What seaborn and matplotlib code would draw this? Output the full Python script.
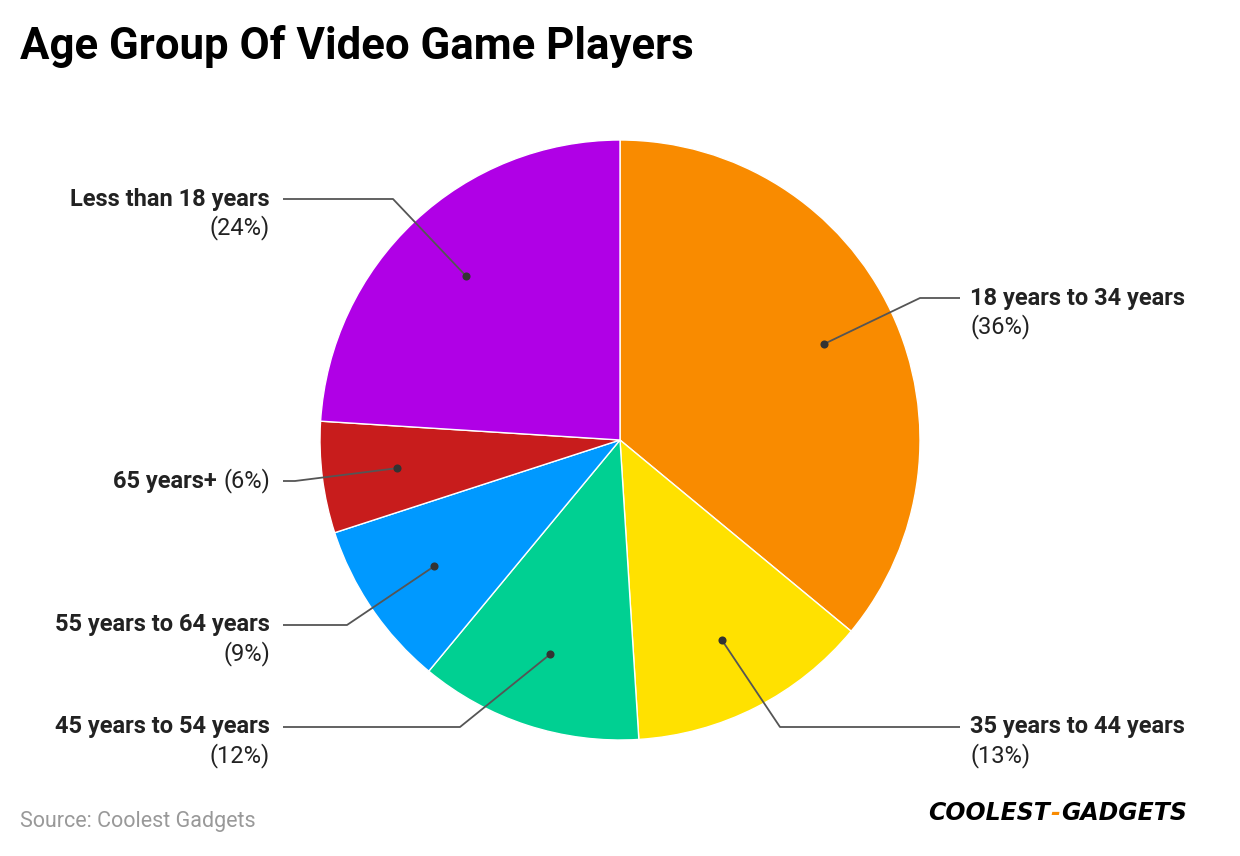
import matplotlib
matplotlib.use("Agg")
import matplotlib.pyplot as plt
import seaborn as sns
import numpy as np

sns.set_theme(style="white")
plt.rcParams['font.family'] = ['Roboto', 'DejaVu Sans']

categories = ["18 years to 34 years", "35 years to 44 years", "45 years to 54 years",
              "55 years to 64 years", "65 years+", "Less than 18 years"]
values = [36, 13, 12, 9, 6, 24]
pct_labels = ["(36%)", "(13%)", "(12%)", "(9%)", "(6%)", "(24%)"]
colors = ["#F98B00", "#FFE100", "#00D092", "#0099FF", "#C81C1C", "#B000E6"]

W, H = 1240, 856
fig = plt.figure(figsize=(W / 100, H / 100), dpi=100)
fig.patch.set_facecolor("white")
ax = fig.add_axes([0, 0, 1, 1])

def Y(py):
    return H - py

cx, cy, R = 620, Y(440), 300
wedges, _ = ax.pie(values, colors=colors, startangle=90, counterclock=False,
                   center=(cx, cy), radius=R, frame=True,
                   wedgeprops=dict(edgecolor="white", linewidth=1.0))
ax.set_xlim(0, W)
ax.set_ylim(0, H)
ax.set_aspect("equal")
ax.axis("off")

# label layout: (elbow_x, elbow_y, end_x, side, one_line)
layout = [
    (920, 298, 960, "right", False),
    (780, 727, 960, "right", False),
    (460, 727, 283, "left", False),
    (347, 625, 283, "left", False),
    (295, 481, 283, "left", True),
    (393, 199, 283, "left", False),
]

FS = 17
txtcol = "#222222"
for w, cat, pl, (ex, ey, endx, side, oneline) in zip(wedges, categories, pct_labels, layout):
    ang = np.deg2rad((w.theta1 + w.theta2) / 2)
    dx = cx + 0.75 * R * np.cos(ang)
    dy = cy + 0.75 * R * np.sin(ang)
    ax.plot([dx, ex, endx], [dy, Y(ey), Y(ey)], color="#555555", lw=1.3,
            solid_capstyle="butt", zorder=3)
    ax.scatter([dx], [dy], s=34, color="#333333", zorder=4, linewidths=0)
    if side == "right":
        tx = endx + 10
        ax.text(tx, Y(ey), cat, ha="left", va="center", fontsize=FS,
                fontweight="bold", color=txtcol)
        ax.text(tx, Y(ey + 29), pl, ha="left", va="center", fontsize=FS,
                color=txtcol)
    else:
        tx = endx - 13
        if oneline:
            t = ax.text(tx, Y(ey), pl, ha="right", va="center", fontsize=FS,
                        color=txtcol)
            fig.canvas.draw()
            bb = t.get_window_extent()
            ax.text(bb.x0 - 6, Y(ey), cat, ha="right", va="center", fontsize=FS,
                    fontweight="bold", color=txtcol)
        else:
            ax.text(tx, Y(ey), cat, ha="right", va="center", fontsize=FS,
                    fontweight="bold", color=txtcol)
            ax.text(tx, Y(ey + 29), pl, ha="right", va="center", fontsize=FS,
                    color=txtcol)

fig.text(20 / W, 1 - 46 / H, "Age Group Of Video Game Players", ha="left", va="center",
         fontsize=31.5, fontweight="bold", color="black")
fig.text(20 / W, 1 - 822 / H, "Source: Coolest Gadgets", ha="left", va="center",
         fontsize=15.5, color="#999999")

# logo
t1 = fig.text(928 / W, 1 - 813 / H, "COOLEST", ha="left", va="center", fontsize=17,
              fontweight="heavy", fontstyle="italic", color="black", family="DejaVu Sans")
fig.canvas.draw()
bb = t1.get_window_extent()
t2 = fig.text((bb.x1 + 1) / W, 1 - 813 / H, "-", ha="left", va="center", fontsize=17,
              fontweight="heavy", fontstyle="italic", color="#F98B00", family="DejaVu Sans")
fig.canvas.draw()
bb2 = t2.get_window_extent()
fig.text((bb2.x1 + 1) / W, 1 - 813 / H, "GADGETS", ha="left", va="center", fontsize=17,
         fontweight="heavy", fontstyle="italic", color="black", family="DejaVu Sans")

fig.savefig("out.png", dpi=100, facecolor="white")
